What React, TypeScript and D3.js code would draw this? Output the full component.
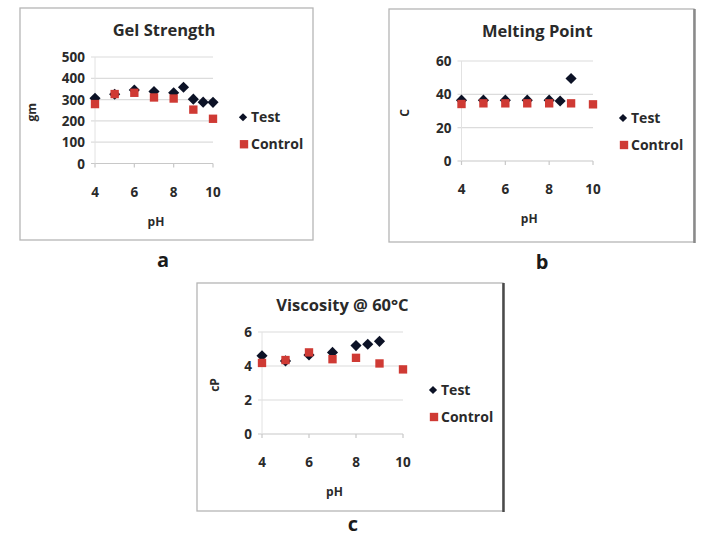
import React from 'react';
import * as d3 from 'd3';

// pH values for each series
const gelTestPH = [4, 5, 6, 7, 8, 8.5, 9, 9.5, 10];
const gelTestVal = [306, 325, 345, 338, 332, 358, 302, 288, 287];
const gelCtrlPH = [4, 5, 6, 7, 8, 9, 10];
const gelCtrlVal = [279, 326, 332, 310, 305, 253, 210];

const meltTestPH = [4, 5, 6, 7, 8, 8.5, 9];
const meltTestVal = [36.5, 36.5, 36.5, 36.5, 36.5, 36, 49.5];
const meltCtrlPH = [4, 5, 6, 7, 8, 9, 10];
const meltCtrlVal = [34.2, 34.6, 34.6, 34.6, 34.6, 34.6, 34];

const viscTestPH = [4, 5, 6, 7, 8, 8.5, 9];
const viscTestVal = [4.6, 4.3, 4.65, 4.8, 5.2, 5.28, 5.45];
const viscCtrlPH = [4, 5, 6, 7, 8, 9, 10];
const viscCtrlVal = [4.18, 4.35, 4.8, 4.4, 4.48, 4.15, 3.8];

const xTicks = [4, 6, 8, 10];
const gelTicks = [0, 100, 200, 300, 400, 500];
const meltTicks = [0, 20, 40, 60];
const viscTicks = [0, 2, 4, 6];

const FONT = "'Open Sans', 'DejaVu Sans', sans-serif";
const TEXT = '#2a2a2a';
const TEST_COLOR = '#0c1226';
const CTRL_COLOR = '#cf3a34';

// Excel style diamond: as wide as it is tall
const squareDiamond = {
    draw(ctx, size) {
        const r = Math.sqrt(size / 2);
        ctx.moveTo(0, -r);
        ctx.lineTo(r, 0);
        ctx.lineTo(0, r);
        ctx.lineTo(-r, 0);
        ctx.closePath();
    }
};

const Panel = ({box, plot, title, yLabel, yMax, yTicks, testX, testY, ctrlX, ctrlY, letter, shadow}) => {
    const x = d3.scaleLinear().domain([4, 10]).range([plot.left, plot.right]);
    const y = d3.scaleLinear().domain([0, yMax]).range([plot.bottom, plot.top]);

    const diamond = d3.symbol().type(squareDiamond).size(62)();
    const legDiamond = d3.symbol().type(squareDiamond).size(34)();
    const square = d3.symbol().type(d3.symbolSquare).size(70)();
    const legX = plot.right + 30;
    const legY = y(yMax * 0.5) + 7;

    return (
        <g>
            <rect x={box.x} y={box.y} width={box.w} height={box.h} fill="#fff" stroke="#b5b5b5" strokeWidth={1.3}/>
            {shadow && <line x1={box.x + box.w + 0.5} x2={box.x + box.w + 0.5} y1={box.y} y2={box.y + box.h + 1} stroke={shadow} strokeWidth={2.5}/>}
            <text x={(plot.left + plot.right) / 2 + 10} y={box.y + 28} textAnchor="middle" fontSize={16.5} fontWeight={700} fill={TEXT} fontFamily={FONT}>{title}</text>
            {yTicks.map(t => (
                <g key={t}>
                    <line x1={plot.left - 4} x2={plot.right} y1={y(t)} y2={y(t)} stroke={t === 0 ? '#c8c8c8' : '#dcdcdc'} strokeWidth={1.2}/>
                    <text x={plot.left - 10} y={y(t) + 5} textAnchor="end" fontSize={13.5} fontWeight={700} fill={TEXT} fontFamily={FONT}>{t}</text>
                </g>
            ))}
            <line x1={plot.left} x2={plot.left} y1={y(yMax)} y2={y(0)} stroke="#e2e2e2" strokeWidth={1}/>
            {xTicks.map(t => (
                <g key={t}>
                    <line x1={x(t)} x2={x(t)} y1={y(0)} y2={y(0) + 4} stroke="#c8c8c8" strokeWidth={1.2}/>
                    <text x={x(t)} y={y(0) + 33} textAnchor="middle" fontSize={13.5} fontWeight={700} fill={TEXT} fontFamily={FONT}>{t}</text>
                </g>
            ))}
            <text x={(plot.left + plot.right) / 2 + 2} y={y(0) + 62} textAnchor="middle" fontSize={12} fontWeight={700} fill={TEXT} fontFamily={FONT}>pH</text>
            <text transform={`translate(${box.x + plot.yLabelX},${(plot.top + plot.bottom) / 2 + 2}) rotate(-90)`} textAnchor="middle" fontSize={12} fontWeight={700} fill={TEXT} fontFamily={FONT}>{yLabel}</text>
            {testX.map((v, i) => (
                <path key={'t' + i} d={diamond} transform={`translate(${x(v)},${y(testY[i])})`} fill={TEST_COLOR}/>
            ))}
            {ctrlX.map((v, i) => (
                <path key={'c' + i} d={square} transform={`translate(${x(v)},${y(ctrlY[i])})`} fill={CTRL_COLOR}/>
            ))}
            <path d={legDiamond} transform={`translate(${legX},${legY})`} fill={TEST_COLOR}/>
            <text x={legX + 8} y={legY + 5} fontSize={14} fontWeight={700} fill={TEXT} fontFamily={FONT}>Test</text>
            <path d={square} transform={`translate(${legX + 1},${legY + 27})`} fill={CTRL_COLOR}/>
            <text x={legX + 8} y={legY + 32} fontSize={14} fontWeight={700} fill={TEXT} fontFamily={FONT}>Control</text>
            <text x={letter.x} y={letter.y} textAnchor="middle" fontSize={20} fontWeight={700} fill="#1a1a1a" fontFamily={FONT}>{letter.t}</text>
        </g>
    );
};

export default function App() {
    return (
        <svg width={701} height={536} style={{position: 'absolute', left: 0, top: 0, background: '#fff'}}>
            <rect width={701} height={536} fill="#fff"/>
            <Panel
                box={{x: 20, y: 8, w: 293, h: 232}}
                plot={{left: 95, right: 213, top: 57, bottom: 163.5, yLabelX: 16}}
                title="Gel Strength" yLabel="gm" yMax={500} yTicks={gelTicks}
                testX={gelTestPH} testY={gelTestVal} ctrlX={gelCtrlPH} ctrlY={gelCtrlVal}
                letter={{x: 163, y: 267, t: 'a'}}/>
            <Panel
                box={{x: 389, y: 9, w: 305, h: 233}}
                plot={{left: 461.5, right: 593, top: 61, bottom: 161, yLabelX: 20}}
                title="Melting Point" yLabel="C" yMax={60} yTicks={meltTicks}
                testX={meltTestPH} testY={meltTestVal} ctrlX={meltCtrlPH} ctrlY={meltCtrlVal}
                letter={{x: 542, y: 269, t: 'b'}} shadow="#8a8a8a"/>
            <Panel
                box={{x: 197, y: 283, w: 306, h: 228}}
                plot={{left: 262, right: 403, top: 332, bottom: 434, yLabelX: 22}}
                title="Viscosity @ 60°C" yLabel="cP" yMax={6} yTicks={viscTicks}
                testX={viscTestPH} testY={viscTestVal} ctrlX={viscCtrlPH} ctrlY={viscCtrlVal}
                letter={{x: 353, y: 531, t: 'c'}} shadow="#4a4a4a"/>
        </svg>
    );
}
